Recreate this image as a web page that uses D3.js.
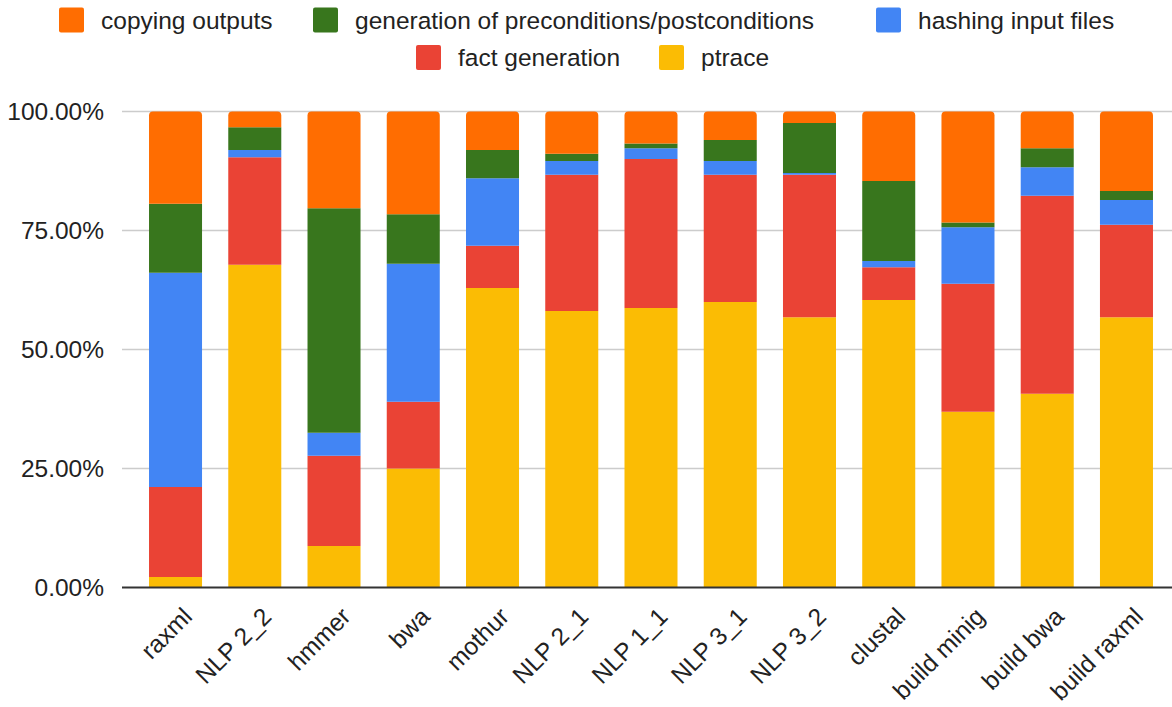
<!DOCTYPE html>
<html>
<head>
<meta charset="utf-8">
<script src="https://cdn.jsdelivr.net/npm/d3@7"></script>
<style>
  html, body { margin: 0; padding: 0; background: #fff; }
  svg { display: block; font-family: "Liberation Sans", Arial, sans-serif; }
</style>
</head>
<body>
<svg id="chart" width="1172" height="707"></svg>
<script>
// Share of run time per pipeline stage, in percent, for each workload.
const categories = ["raxml", "NLP 2_2", "hmmer", "bwa", "mothur", "NLP 2_1", "NLP 1_1",
  "NLP 3_1", "NLP 3_2", "clustal", "build minig", "build bwa", "build raxml"];

const ptrace         = [2.2, 67.8, 8.7, 25.0, 62.9, 58.1, 58.7, 60.0, 56.8, 60.4, 36.9, 40.7, 56.8];
const factGeneration = [18.9, 22.6, 19.0, 14.0, 8.9, 28.6, 31.3, 26.7, 29.9, 6.9, 26.9, 41.6, 19.4];
const hashingInput   = [45.0, 1.5, 4.8, 29.0, 14.2, 2.9, 2.3, 2.9, 0.4, 1.3, 11.9, 6.0, 5.2];
const prePostConds   = [14.5, 4.8, 47.2, 10.4, 5.9, 1.5, 1.0, 4.4, 10.5, 16.8, 1.0, 4.0, 1.9];
const copyingOutputs = [19.4, 3.3, 20.3, 21.6, 8.1, 8.9, 6.7, 6.0, 2.4, 14.6, 23.3, 7.7, 16.7];

const yTicks = [0, 25, 50, 75, 100];

// Series in stacking order, bottom to top.
const series = [
  { key: "ptrace", label: "ptrace", values: ptrace, color: "#fbbc04" },
  { key: "fact", label: "fact generation", values: factGeneration, color: "#ea4335" },
  { key: "hash", label: "hashing input files", values: hashingInput, color: "#4285f4" },
  { key: "conds", label: "generation of preconditions/postconditions", values: prePostConds, color: "#38761d" },
  { key: "copy", label: "copying outputs", values: copyingOutputs, color: "#ff6d01" }
];

const FONT = 24.5;

const rows = categories.map((c, i) => {
  const r = { category: c };
  series.forEach(s => { r[s.key] = s.values[i]; });
  return r;
});

const svg = d3.select("#chart");
const W = 1172;
const plotLeft = 122;

const x = d3.scaleBand()
  .domain(categories)
  .range([plotLeft, 1180])
  .paddingInner(0.331)
  .paddingOuter(0.341);

const y = d3.scaleLinear().domain([0, 100]).range([587.5, 111.5]);

// Gridlines
svg.append("g")
  .selectAll("line")
  .data(yTicks.filter(t => t > 0))
  .join("line")
  .attr("x1", plotLeft).attr("x2", W)
  .attr("y1", d => y(d)).attr("y2", d => y(d))
  .attr("stroke", "#cccccc")
  .attr("stroke-width", 1.6);

// Y axis labels
const yAxis = d3.axisLeft(y).tickValues(yTicks).tickSize(0).tickPadding(0)
  .tickFormat(d => d3.format(".2f")(d) + "%");
svg.append("g")
  .attr("transform", `translate(104,0)`)
  .call(yAxis)
  .call(g => g.select(".domain").remove())
  .call(g => g.selectAll("text")
    .attr("font-size", FONT)
    .attr("fill", "#222")
    .attr("font-family", "'Liberation Sans', Arial, sans-serif"));

// Stacked bars
const stack = d3.stack().keys(series.map(s => s.key));
const layers = stack(rows);
const topKey = series[series.length - 1].key;
const radius = 4;

function barPath(x0, w, yTop, yBot, rounded) {
  const h = yBot - yTop;
  if (!rounded || h < radius) {
    return `M${x0},${yBot}V${yTop}H${x0 + w}V${yBot}Z`;
  }
  return `M${x0},${yBot}V${yTop + radius}Q${x0},${yTop} ${x0 + radius},${yTop}` +
    `H${x0 + w - radius}Q${x0 + w},${yTop} ${x0 + w},${yTop + radius}V${yBot}Z`;
}

svg.append("g")
  .selectAll("g")
  .data(layers)
  .join("g")
  .attr("fill", d => series.find(s => s.key === d.key).color)
  .each(function(layer) {
    d3.select(this).selectAll("path")
      .data(layer)
      .join("path")
      .attr("d", d => barPath(x(d.data.category), x.bandwidth(), y(d[1]), y(d[0]), layer.key === topKey));
  });

// Baseline
svg.append("line")
  .attr("x1", plotLeft).attr("x2", W)
  .attr("y1", y(0)).attr("y2", y(0))
  .attr("stroke", "#333")
  .attr("stroke-width", 2.2);

// X axis labels, rotated
svg.append("g")
  .selectAll("text")
  .data(categories)
  .join("text")
  .attr("transform", d => `translate(${x(d) + x.bandwidth() / 2 + 12},${612}) rotate(-45)`)
  .attr("text-anchor", "end")
  .attr("dy", "0.35em")
  .attr("font-size", FONT)
  .attr("fill", "#222")
  .text(d => d);

// Legend: two rows, items placed at fixed slots
const legendItems = [
  { key: "copy",   x: 59,  row: 0 },
  { key: "conds",  x: 313, row: 0 },
  { key: "hash",   x: 876, row: 0 },
  { key: "fact",   x: 416, row: 1 },
  { key: "ptrace", x: 659, row: 1 }
];
const swatch = 25, swGap = 17;
const rowY = [20, 57.5];
const legend = svg.append("g");
legendItems.forEach(it => {
  const s = series.find(t => t.key === it.key);
  const item = legend.append("g").attr("transform", `translate(${it.x},${rowY[it.row]})`);
  item.append("rect")
    .attr("x", 0).attr("y", -swatch / 2)
    .attr("width", swatch).attr("height", swatch)
    .attr("rx", 2)
    .attr("fill", s.color);
  item.append("text")
    .attr("x", swatch + swGap)
    .attr("dy", "0.35em")
    .attr("font-size", FONT)
    .attr("fill", "#222")
    .text(s.label);
});
</script>
</body>
</html>
